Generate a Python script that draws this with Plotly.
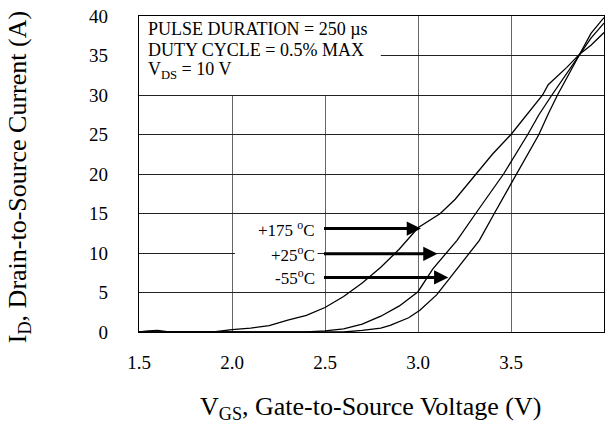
import plotly.graph_objects as go

# Transfer characteristics: drain current vs gate-source voltage at three temperatures
vgs_175 = [1.50, 1.55, 1.60, 1.65, 1.70, 1.90, 2.00, 2.10, 2.20, 2.25, 2.30, 2.40,
           2.50, 2.60, 2.70, 2.80, 2.90, 3.00, 3.12, 3.20, 3.31, 3.40, 3.50, 3.60,
           3.67, 3.70, 3.80, 3.87, 3.93, 4.00]
id_175 = [0.0, 0.15, 0.2, 0.05, 0.0, 0.0, 0.3, 0.5, 0.8, 1.2, 1.5, 2.1,
          3.1, 4.5, 6.2, 8.2, 10.5, 13.2, 15.0, 16.8, 20.0, 22.5, 25.0, 27.9,
          30.0, 31.3, 33.5, 35.2, 36.3, 37.9]

vgs_25 = [1.50, 2.40, 2.50, 2.60, 2.70, 2.80, 2.90, 3.00, 3.08, 3.21, 3.31, 3.46,
          3.59, 3.65, 3.72, 3.80, 3.87, 3.93, 4.00]
id_25 = [0.0, 0.0, 0.15, 0.4, 1.0, 2.0, 3.3, 5.1, 8.0, 11.6, 15.0, 20.0,
         25.0, 27.5, 30.0, 32.7, 35.2, 37.2, 39.1]

vgs_m55 = [1.50, 2.60, 2.70, 2.80, 2.85, 2.95, 3.01, 3.10, 3.17, 3.24, 3.33, 3.41,
           3.53, 3.65, 3.70, 3.75, 3.81, 3.87, 3.93, 4.00]
id_m55 = [0.0, 0.0, 0.2, 0.5, 0.85, 1.8, 2.75, 4.7, 6.8, 8.9, 11.6, 15.0,
          20.0, 25.0, 27.6, 30.0, 32.6, 35.2, 37.8, 39.8]

x_ticks = [1.5, 2.0, 2.5, 3.0, 3.5, 4.0]
y_ticks = [0, 5, 10, 15, 20, 25, 30, 35, 40]

conditions = ["PULSE DURATION = 250 µs",
              "DUTY CYCLE = 0.5% MAX",
              "V<sub>DS</sub> = 10 V"]

FONT = "Liberation Serif, Times New Roman, serif"

fig = go.Figure()
for xs, ys in [(vgs_175, id_175), (vgs_25, id_25), (vgs_m55, id_m55)]:
    fig.add_trace(go.Scatter(x=xs, y=ys, mode="lines",
                             line=dict(color="black", width=1.3),
                             showlegend=False, hoverinfo="skip"))

# white panel behind the test-condition text
fig.add_shape(type="rect", xref="x", yref="y", x0=1.5, x1=2.8, y0=30.0, y1=40.0,
              fillcolor="white", line=dict(width=0), layer="between")
# white patch behind the +25 °C label (covers the 10 A gridline)
fig.add_shape(type="rect", xref="x", yref="y", x0=2.016, x1=2.46, y0=9.2, y1=10.9,
              fillcolor="white", line=dict(width=0), layer="between")

for i, line in enumerate(conditions):
    fig.add_annotation(xref="paper", yref="paper", x=0.015, y=1 - (13 + 20.5 * i) / 316,
                       text=line, showarrow=False, xanchor="left", yanchor="middle",
                       font=dict(family=FONT, size=18, color="black"))

# temperature labels, each with an arrow pointing to its curve
labels = [("+175 <sup>o</sup>C", 13.1, 3.016),
          ("+25<sup>o</sup>C", 9.9, 3.105),
          ("-55<sup>o</sup>C", 6.9, 3.163)]
for text, yy, tip in labels:
    fig.add_annotation(x=tip, y=yy, ax=2.457, ay=yy, xref="x", yref="y",
                       axref="x", ayref="y", text=text, showarrow=True,
                       xanchor="right", yanchor="middle", startstandoff=7,
                       arrowhead=2, arrowsize=0.95, arrowwidth=3, arrowcolor="black",
                       font=dict(family=FONT, size=17, color="black"))

# axis titles
fig.add_annotation(xref="paper", yref="paper", x=0.497, y=-0.24,
                   text="V<sub>GS</sub>, Gate-to-Source Voltage (V)", showarrow=False,
                   xanchor="center", yanchor="middle",
                   font=dict(family=FONT, size=26, color="black"))
fig.add_annotation(xref="paper", yref="paper", x=-0.258, y=0.49,
                   text="I<sub>D</sub>, Drain-to-Source Current (A)", showarrow=False,
                   textangle=-90, xanchor="center", yanchor="middle",
                   font=dict(family=FONT, size=26, color="black"))

fig.update_xaxes(range=[1.5, 4.0], tickvals=x_ticks,
                 ticktext=[f"{v:.1f}" for v in x_ticks],
                 showgrid=True, gridcolor="#666666", gridwidth=1,
                 showline=True, linecolor="black", linewidth=1.3, mirror=True,
                 zeroline=False, ticks="", ticklabelstandoff=13,
                 tickfont=dict(family=FONT, size=19, color="black"))
fig.update_yaxes(range=[0, 40], tickvals=y_ticks,
                 showgrid=True, gridcolor="#222222", gridwidth=1.2,
                 showline=True, linecolor="black", linewidth=1.3, mirror=True,
                 zeroline=False, ticks="", ticklabelstandoff=26,
                 tickfont=dict(family=FONT, size=19, color="black"))

fig.update_layout(width=615, height=428,
                  margin=dict(l=139, r=11, t=16, b=96, autoexpand=False),
                  paper_bgcolor="white", plot_bgcolor="white",
                  font=dict(family=FONT, color="black"))

fig.write_html("out.html")
